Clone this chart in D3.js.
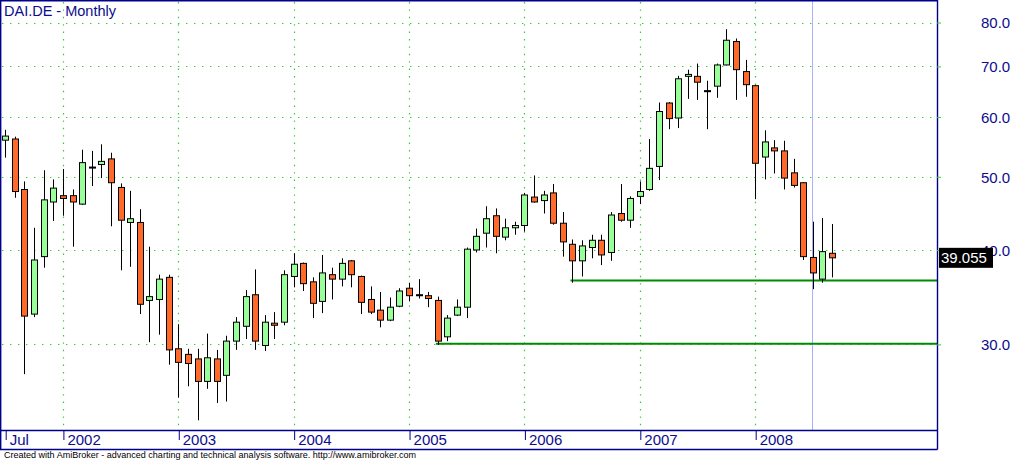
<!DOCTYPE html>
<html><head><meta charset="utf-8">
<script src="https://cdn.jsdelivr.net/npm/d3@7"></script>
<style>
html,body{margin:0;padding:0;background:#fff;}
svg{display:block;font-family:"Liberation Sans",Arial,sans-serif;}
</style></head>
<body>
<svg id="chart" width="1014" height="461"></svg>
<script>
// ---- Data (monthly candles, DAI.DE) ----
const months = [
"2001-07","2001-08","2001-09","2001-10","2001-11","2001-12",
"2002-01","2002-02","2002-03","2002-04","2002-05","2002-06","2002-07","2002-08","2002-09","2002-10","2002-11","2002-12",
"2003-01","2003-02","2003-03","2003-04","2003-05","2003-06","2003-07","2003-08","2003-09","2003-10","2003-11","2003-12",
"2004-01","2004-02","2004-03","2004-04","2004-05","2004-06","2004-07","2004-08","2004-09","2004-10","2004-11","2004-12",
"2005-01","2005-02","2005-03","2005-04","2005-05","2005-06","2005-07","2005-08","2005-09","2005-10","2005-11","2005-12",
"2006-01","2006-02","2006-03","2006-04","2006-05","2006-06","2006-07","2006-08","2006-09","2006-10","2006-11","2006-12",
"2007-01","2007-02","2007-03","2007-04","2007-05","2007-06","2007-07","2007-08","2007-09","2007-10","2007-11","2007-12",
"2008-01","2008-02","2008-03","2008-04","2008-05","2008-06","2008-07","2008-08","2008-09"];
const open = [55.9,56.1,48.1,32.9,39.2,46.3,
47.2,47.2,46.0,51.5,51.9,52.8,48.4,43.5,43.5,34.3,34.4,36.8,
29.6,29.1,28.7,26.8,28.7,27.3,30.3,31.7,34.9,29.9,32.0,32.1,
36.9,38.4,36.3,34.2,37.1,36.6,38.7,36.9,34.4,33.3,32.3,33.7,
35.6,34.9,34.8,34.3,30.7,32.8,33.6,40.0,42.1,44.4,41.6,42.8,
43.1,47.0,46.5,47.6,43.4,40.7,38.7,40.3,41.2,39.7,44.7,43.8,
47.1,48.1,51.6,62.6,59.8,67.9,67.9,65.0,65.9,70.3,75.5,68.9,
66.0,53.1,54.6,54.1,50.6,49.1,39.1,36.6,39.6];
const high = [57.7,56.5,49.3,42.8,51.0,49.6,
51.2,48.1,54.3,54.1,55.2,53.8,49.0,47.9,45.3,40.4,37.1,37.1,
31.9,29.6,29.6,31.0,29.5,30.8,32.6,35.4,37.7,32.8,33.1,37.6,
39.6,38.5,36.8,39.4,37.9,39.0,38.8,37.0,35.8,35.2,34.6,35.6,
36.2,36.6,35.2,34.7,32.8,34.4,40.3,42.7,45.7,45.4,44.0,43.6,
47.6,50.2,47.9,48.9,44.9,41.3,41.2,41.9,41.9,44.9,48.9,47.1,
49.3,56.1,62.7,62.8,68.0,69.3,70.6,67.0,70.6,78.4,76.2,71.4,
66.2,57.6,55.9,55.8,52.8,49.2,43.6,44.1,43.3];
const low = [53.0,46.9,27.4,32.6,37.9,43.7,
44.4,40.4,45.9,48.6,49.8,43.0,37.6,38.0,32.9,30.2,30.9,28.2,
25.5,26.4,23.8,26.2,25.1,25.2,29.5,30.5,29.5,29.4,30.5,31.8,
35.7,35.3,32.5,33.0,34.4,35.8,35.7,32.9,32.9,31.6,32.2,33.6,
34.2,34.5,33.6,29.95,30.3,32.7,32.5,39.7,40.3,39.6,41.2,41.9,
42.3,46.2,44.7,43.2,39.2,36.2,36.9,39.0,38.2,38.7,43.6,42.8,
46.0,47.9,49.5,57.8,58.0,63.4,63.2,57.8,63.6,70.2,63.2,63.8,
46.7,49.6,50.5,48.1,48.4,38.8,35.5,36.2,36.8];
const close = [56.6,47.8,32.7,38.8,46.6,48.3,
46.8,46.3,52.2,51.5,52.4,49.1,43.8,44.0,33.9,34.7,36.6,29.5,
28.4,28.3,26.8,28.8,26.8,30.3,32.1,34.7,30.3,32.1,31.8,37.1,
38.3,36.1,34.0,37.3,36.6,38.4,37.1,34.1,33.1,32.3,33.6,35.3,
34.8,34.9,34.5,30.3,32.5,33.6,40.1,41.7,44.0,41.7,42.8,43.1,
47.3,46.3,47.3,43.4,41.0,38.7,40.5,41.2,39.4,44.5,43.8,46.8,
47.8,51.3,61.0,59.7,67.4,68.3,66.7,65.0,70.3,75.8,69.3,66.2,
52.1,55.6,54.1,49.8,48.7,39.2,37.3,39.8,39.055];

const tickMonths = ["2001-07","2002-01","2003-01","2004-01","2005-01","2006-01","2007-01","2008-01"];
const tickLabels = ["Jul","2002","2003","2004","2005","2006","2007","2008"];
const gridMonths = ["2002-01","2003-01","2004-01","2005-01","2006-01","2007-01","2008-01"];
const yTicks = [30,40,50,60,70,80];
const yTickLabels = ["30.0","40.0","50.0","60.0","70.0","80.0"];
const trendStart = ["2005-04","2006-06"];
const trendLevel = [30.05,36.45];
const cursorMonth = "2008-07";
const lastLabel = "39.055";
const title = "DAI.DE - Monthly";
const footer = "Created with AmiBroker - advanced charting and technical analysis software. http://www.amibroker.com";

// ---- Layout ----
const svg = d3.select("#chart");
const W = 1014, H = 461;
const plotR = 937, plotB = 430, frameB = 449;
const navy = "#0c0c8c", frameCol = "#00008b";
const gridCol = "#33cc33";

svg.append("rect").attr("width",W).attr("height",H).attr("fill","#fff");

const idx = m => months.indexOf(m);
const x = d3.scaleLinear().domain([0, months.length-1]).range([5.2, 832.1]);
const y = d3.scaleLog().domain([23.11, 85.69]).range([plotB, 0]);

// gridlines
const g = svg.append("g");
g.selectAll("line.hg").data(yTicks).join("line")
  .attr("x1",2).attr("x2",plotR)
  .attr("y1",d=>Math.round(y(d))+0.5).attr("y2",d=>Math.round(y(d))+0.5)
  .attr("stroke",gridCol).attr("stroke-width",1.2).attr("stroke-dasharray","1.4,6.6");
g.selectAll("line.vg").data(gridMonths).join("line")
  .attr("x1",d=>Math.round(x(idx(d)))+0.5).attr("x2",d=>Math.round(x(idx(d)))+0.5)
  .attr("y1",2).attr("y2",plotB)
  .attr("stroke",gridCol).attr("stroke-width",1.2).attr("stroke-dasharray","1.4,6");

// cursor line
svg.append("line")
  .attr("x1",Math.round(x(idx(cursorMonth)))-0.5).attr("x2",Math.round(x(idx(cursorMonth)))-0.5)
  .attr("y1",0).attr("y2",plotB).attr("stroke","#aab0ff").attr("stroke-width",1);

// trendlines
svg.selectAll("line.tr").data(trendStart).join("line")
  .attr("x1",d=>x(idx(d))-2).attr("x2",plotR)
  .attr("y1",(d,i)=>y(trendLevel[i])).attr("y2",(d,i)=>y(trendLevel[i]))
  .attr("stroke","#008c00").attr("stroke-width",2);

// candles
const data = months.map((m,i)=>({m,i,o:open[i],h:high[i],l:low[i],c:close[i]}));
const cg = svg.append("g");
cg.selectAll("line.wick").data(data).join("line")
  .attr("x1",d=>Math.round(x(d.i))+0.5).attr("x2",d=>Math.round(x(d.i))+0.5)
  .attr("y1",d=>y(d.h)).attr("y2",d=>y(d.l))
  .attr("stroke","#000").attr("stroke-width",1);
cg.selectAll("rect.body").data(data).join("rect")
  .attr("x",d=>Math.round(x(d.i))-2.5)
  .attr("width",6)
  .attr("y",d=>Math.min(y(d.o),y(d.c)))
  .attr("height",d=>Math.max(1,Math.abs(y(d.o)-y(d.c))))
  .attr("fill",d=>d.c>d.o?"#99ff99":(d.c<d.o?"#ff6a2a":"#000"))
  .attr("stroke","#000").attr("stroke-width",1);

// frame
const fr = svg.append("g").attr("stroke",frameCol).attr("stroke-width",1.4).attr("fill","none");
fr.append("line").attr("x1",0.7).attr("x2",0.7).attr("y1",0).attr("y2",frameB+0.5);
fr.append("line").attr("x1",0).attr("x2",plotR+0.5).attr("y1",0.7).attr("y2",0.7);
fr.append("line").attr("x1",plotR+0.5).attr("x2",plotR+0.5).attr("y1",0).attr("y2",frameB+0.5);
fr.append("line").attr("x1",0).attr("x2",plotR+0.5).attr("y1",plotB+0.5).attr("y2",plotB+0.5);
fr.append("line").attr("x1",0).attr("x2",plotR+0.5).attr("y1",frameB+0.5).attr("y2",frameB+0.5);

// x axis
const xAxis = d3.axisBottom(x)
  .tickValues(tickMonths.map(idx))
  .tickFormat((d,i)=>tickLabels[i])
  .tickSize(10).tickSizeOuter(0);
const xg = svg.append("g").attr("transform",`translate(0.5,${plotB})`).call(xAxis);
xg.select(".domain").remove();
xg.selectAll(".tick line").attr("stroke",frameCol).attr("stroke-width",1);
xg.selectAll(".tick text")
  .attr("text-anchor","start").attr("x",3.5).attr("y",15).attr("dy",null)
  .attr("fill",navy).style("font-size","15px")
  .style("font-family","'Liberation Sans',Arial,sans-serif");

// y axis (right)
const yAxis = d3.axisRight(y).tickValues(yTicks)
  .tickFormat((d,i)=>yTickLabels[i]).tickSize(4).tickPadding(40).tickSizeOuter(0);
const yg = svg.append("g").attr("transform",`translate(${plotR},0)`).call(yAxis);
yg.select(".domain").remove();
yg.selectAll(".tick line").attr("stroke",gridCol).attr("stroke-width",1);
yg.selectAll(".tick text").attr("fill",navy).attr("dy","0.36em")
  .style("font-size","15px").style("font-family","'Liberation Sans',Arial,sans-serif");

// last value label
const ly = y(close[close.length-1]);
svg.append("rect").attr("x",939).attr("y",ly-10).attr("width",54).attr("height",20).attr("fill","#000");
svg.append("text").attr("x",941).attr("y",ly+5.5).attr("fill","#fff")
  .style("font-size","15px").text(lastLabel);

// title
svg.append("text").attr("x",4).attr("y",16).attr("fill",navy)
  .style("font-size","14.5px").text(title);

// footer
svg.append("text").attr("x",4).attr("y",458).attr("fill","#000")
  .attr("textLength",412).attr("lengthAdjust","spacingAndGlyphs")
  .style("font-size","9.5px").text(footer);
</script>
</body></html>
